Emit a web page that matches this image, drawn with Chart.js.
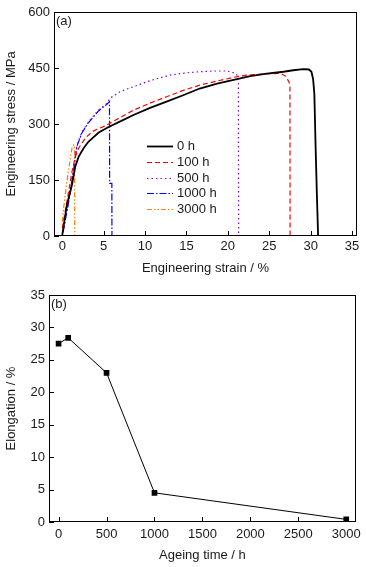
<!DOCTYPE html>
<html>
<head>
<meta charset="utf-8">
<script src="https://cdn.jsdelivr.net/npm/chart.js@4.4.1/dist/chart.umd.min.js"></script>
<style>
  html, body { margin: 0; padding: 0; background: #fff; }
  #boxA { position: absolute; left: 0; top: 0; }
  #boxB { position: absolute; left: 0; top: 282px; }
</style>
</head>
<body>
<div id="boxA"><canvas id="stress" width="366" height="282"></canvas></div>
<div id="boxB"><canvas id="elong" width="366" height="285"></canvas></div>
<script>
// (a) stress-strain curves, strain in %, stress in MPa
const strain0h = [0, 0.56, 1.17, 1.57, 1.97, 2.57, 3.18, 4.4, 5.6, 7.2, 8.6, 10.6, 12.6, 14.6, 16.6, 18.7, 20.7, 22.7, 24.7, 26.7, 27.9, 29.1, 29.8, 30.1, 30.3, 30.45, 30.6, 30.75, 30.85, 30.9];
const stress0h = [3, 83, 137, 186, 212, 235, 253, 277, 292, 309, 324, 343, 360, 377, 395, 408, 418, 428, 435, 440, 444, 447, 446, 440, 420, 380, 239, 114, 40, 0];

const strain100h = [0, 0.56, 1.17, 1.57, 1.97, 2.77, 3.58, 4.18, 5.19, 6.4, 8.6, 10.6, 12.6, 14.6, 16.6, 18.7, 20.7, 22.3, 24.5, 26.3, 27.0, 27.4, 27.5, 27.52];
const stress100h = [21, 92, 172, 212, 235, 262, 279, 286, 295, 310, 337, 356, 373, 390, 404, 415, 425, 431, 434, 436, 428, 412, 400, 0];

const strain500h = [0.16, 0.76, 1.37, 1.77, 2.37, 3.18, 4.38, 5.39, 5.8, 6.2, 7.0, 8.6, 10.6, 13.0, 15.0, 16.6, 18.5, 19.9, 20.7, 21.1, 21.27, 21.3];
const stress500h = [21, 92, 181, 244, 279, 306, 338, 355, 370, 375, 387, 400, 416, 431, 437, 440, 442, 442, 437, 431, 409, 0];

const strain1000h = [0.1, 0.76, 1.37, 1.77, 2.37, 3.18, 4.38, 5.39, 5.7, 5.72, 5.99, 6.0];
const stress1000h = [10, 90, 178, 240, 276, 304, 335, 353, 360, 141, 141, 0];

const strain3000h = [0, 0.16, 0.56, 0.97, 1.17, 1.37, 1.45, 1.49, 1.5];
const stress3000h = [38, 74, 146, 208, 235, 244, 244, 230, 0];

const strainTicks = [0, 5, 10, 15, 20, 25, 30, 35];
const stressTicks = [0, 150, 300, 450, 600];

// (b) elongation vs ageing time
const ageingTime = [0, 100, 500, 1000, 3000];
const elongation = [27.5, 28.4, 23.0, 4.5, 0.4];

const timeTicks = [0, 500, 1000, 1500, 2000, 2500, 3000];
const elongTicks = [0, 5, 10, 15, 20, 25, 30, 35];

Chart.defaults.font.family = '"Liberation Sans", Arial, sans-serif';
Chart.defaults.font.size = 13;
Chart.defaults.color = '#1a1a1a';

const pts = (xs, ys) => xs.map((x, i) => ({ x: x, y: ys[i] }));

// box around the plot, inward ticks, panel letter, legend inside plot
const framePlugin = {
  id: 'frame',
  afterDraw(chart, args, opts) {
    const { ctx, chartArea: a } = chart;
    const xs = chart.scales.x, ys = chart.scales.y;
    ctx.save();
    ctx.strokeStyle = '#000';
    ctx.lineWidth = 1;
    ctx.setLineDash([]);
    ctx.strokeRect(Math.round(a.left) + 0.5, Math.round(a.top) + 0.5,
      Math.round(a.right - a.left) - 1, Math.round(a.bottom - a.top) - 1);
    ctx.beginPath();
    xs.ticks.forEach((t, i) => {
      const px = Math.round(xs.getPixelForTick(i)) + 0.5;
      ctx.moveTo(px, a.bottom);
      ctx.lineTo(px, a.bottom - 5);
    });
    ys.ticks.forEach((t, i) => {
      const py = Math.round(ys.getPixelForTick(i)) + 0.5;
      ctx.moveTo(a.left, py);
      ctx.lineTo(a.left + 5, py);
    });
    ctx.stroke();

    ctx.fillStyle = '#1a1a1a';
    ctx.font = '13px "Liberation Sans", Arial, sans-serif';
    ctx.textBaseline = 'top';
    ctx.textAlign = 'left';
    ctx.fillText(opts.label, a.left + 2, a.top + 3);

    if (opts.legend) {
      const L = opts.legend;
      ctx.textBaseline = 'middle';
      chart.data.datasets.forEach((ds, i) => {
        const y = Math.round(L.y + i * L.step) + 0.5;
        ctx.beginPath();
        ctx.strokeStyle = ds.borderColor;
        ctx.lineWidth = ds.borderWidth;
        ctx.setLineDash(ds.borderDash || []);
        ctx.moveTo(L.x, y);
        ctx.lineTo(L.x + L.len, y);
        ctx.stroke();
        ctx.fillText(ds.label, L.x + L.len + 4, y);
      });
    }
    ctx.restore();
  }
};

function fixTicks(values) {
  return scale => { scale.ticks = values.map(v => ({ value: v })); };
}
const plain = v => String(v);

new Chart(document.getElementById('stress'), {
  type: 'scatter',
  data: {
    datasets: [
      { label: '0 h', data: pts(strain0h, stress0h), borderColor: '#000', borderWidth: 1.8 },
      { label: '100 h', data: pts(strain100h, stress100h), borderColor: '#ff0000', borderWidth: 1.2, borderDash: [5, 3] },
      { label: '500 h', data: pts(strain500h, stress500h), borderColor: '#8000ff', borderWidth: 1.2, borderDash: [1.5, 3] },
      { label: '1000 h', data: pts(strain1000h, stress1000h), borderColor: '#0000ff', borderWidth: 1.2, borderDash: [7, 2, 1.5, 2] },
      { label: '3000 h', data: pts(strain3000h, stress3000h), borderColor: '#ff8000', borderWidth: 1.2, borderDash: [5, 2, 1.5, 2, 1.5, 2] }
    ].map(d => Object.assign(d, { showLine: true, pointRadius: 0, fill: false, tension: 0 }))
  },
  options: {
    responsive: false,
    animation: false,
    layout: { padding: { left: 0, right: 9, top: 12, bottom: 0 } },
    plugins: {
      legend: { display: false },
      tooltip: { enabled: false },
      frame: { label: '(a)', legend: { x: 147, y: 146, len: 26, step: 15.8 } }
    },
    scales: {
      x: {
        type: 'linear', min: -1, max: 35.6,
        grid: { display: false, drawTicks: false }, border: { display: false },
        ticks: { padding: 3, autoSkip: false, maxRotation: 0, callback: plain },
        afterBuildTicks: fixTicks(strainTicks),
        afterFit: s => { s.height = 46; },
        title: { display: true, text: 'Engineering strain / %', padding: { top: 0, bottom: 6 } }
      },
      y: {
        type: 'linear', min: 0, max: 600,
        grid: { display: false, drawTicks: false }, border: { display: false },
        ticks: { padding: 4, autoSkip: false, callback: plain },
        afterBuildTicks: fixTicks(stressTicks),
        afterFit: s => { s.width = 54; },
        title: { display: true, text: 'Engineering stress / MPa', padding: { top: 4, bottom: 0 } }
      }
    }
  },
  plugins: [framePlugin]
});

new Chart(document.getElementById('elong'), {
  type: 'scatter',
  data: {
    datasets: [{
      label: 'Elongation',
      data: pts(ageingTime, elongation),
      showLine: true,
      borderColor: '#000',
      borderWidth: 1,
      pointStyle: 'rect',
      pointRadius: 4,
      pointBackgroundColor: '#000',
      pointBorderColor: '#000',
      pointBorderWidth: 0,
      tension: 0
    }]
  },
  options: {
    responsive: false,
    animation: false,
    layout: { padding: { left: 0, right: 9, top: 13, bottom: 0 } },
    plugins: {
      legend: { display: false },
      tooltip: { enabled: false },
      frame: { label: '(b)' }
    },
    scales: {
      x: {
        type: 'linear', min: -100, max: 3100,
        grid: { display: false, drawTicks: false }, border: { display: false },
        ticks: { padding: 5, autoSkip: false, maxRotation: 0, callback: plain },
        afterBuildTicks: fixTicks(timeTicks),
        afterFit: s => { s.height = 45; },
        title: { display: true, text: 'Ageing time / h', padding: { top: 0, bottom: 3.5 } }
      },
      y: {
        type: 'linear', min: 0, max: 35,
        grid: { display: false, drawTicks: false }, border: { display: false },
        ticks: { padding: 4, autoSkip: false, callback: plain },
        afterBuildTicks: fixTicks(elongTicks),
        afterFit: s => { s.width = 49; },
        title: { display: true, text: 'Elongation / %', padding: { top: 4, bottom: 0 } }
      }
    }
  },
  plugins: [framePlugin]
});
</script>
</body>
</html>
